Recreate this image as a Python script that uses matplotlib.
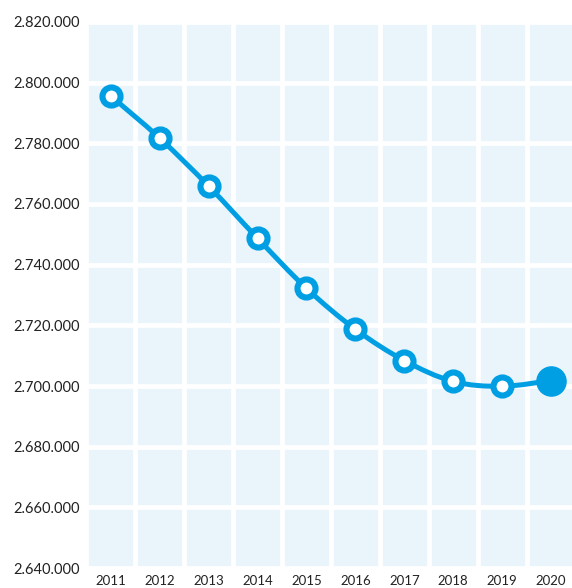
import matplotlib.pyplot as plt
from matplotlib.path import Path
from matplotlib.patches import PathPatch
from matplotlib.ticker import FuncFormatter, MultipleLocator
import numpy as np

years = [2011, 2012, 2013, 2014, 2015, 2016, 2017, 2018, 2019, 2020]
values = [2795600, 2781700, 2765900, 2748700, 2732200, 2718700, 2708400, 2701500, 2699900, 2701800]

BLUE = "#009FE3"
CELL = "#EAF4FB"

plt.rcParams["font.family"] = ["Lato", "DejaVu Sans"]


# smooth line through the points (Catmull-Rom as bezier segments)
def smooth_path(xs, ys):
    xs = np.asarray(xs, float)
    ys = np.asarray(ys, float)
    verts = [(xs[0], ys[0])]
    codes = [Path.MOVETO]
    n = len(xs)
    for i in range(n - 1):
        p0 = (xs[max(i - 1, 0)], ys[max(i - 1, 0)])
        p1 = (xs[i], ys[i])
        p2 = (xs[i + 1], ys[i + 1])
        p3 = (xs[min(i + 2, n - 1)], ys[min(i + 2, n - 1)])
        c1 = (p1[0] + (p2[0] - p0[0]) / 6, p1[1] + (p2[1] - p0[1]) / 6)
        c2 = (p2[0] - (p3[0] - p1[0]) / 6, p2[1] - (p3[1] - p1[1]) / 6)
        verts += [c1, c2, p2]
        codes += [Path.CURVE4] * 3
    return Path(verts, codes)


fig = plt.figure(figsize=(5.72, 5.88), dpi=100)
ax = fig.add_axes([0.151, 0.034, 0.855, 0.9286])
ax.set_facecolor(CELL)
for s in ax.spines.values():
    s.set_visible(False)

ax.set_xlim(2010.5, 2020.5)
ax.set_ylim(2640000, 2820000)
ax.yaxis.set_major_locator(MultipleLocator(20000))
ax.set_xticks(years)
ax.set_xticks(np.arange(2010.5, 2021, 1), minor=True)
ax.yaxis.set_major_formatter(FuncFormatter(lambda v, p: f"{int(v):,}".replace(",", ".")))

ax.grid(True, which="major", axis="y", color="white", linewidth=3.4)
ax.grid(True, which="minor", axis="x", color="white", linewidth=3.4)
ax.set_axisbelow(True)
ax.tick_params(which="both", length=0)
ax.tick_params(axis="y", pad=5, labelsize=10.5, labelcolor="#222222")
ax.tick_params(axis="x", pad=5, labelsize=9.5, labelcolor="#222222")

ax.add_patch(PathPatch(smooth_path(years, values), facecolor="none",
                       edgecolor=BLUE, linewidth=3.6, zorder=3, clip_on=False))
ax.plot(years[:-1], values[:-1], linestyle="none", marker="o", markersize=13,
        markerfacecolor="white", markeredgecolor=BLUE, markeredgewidth=4.4,
        zorder=4, clip_on=False)
ax.plot(years[-1:], values[-1:], linestyle="none", marker="o", markersize=21,
        markerfacecolor=BLUE, markeredgecolor=BLUE, zorder=4, clip_on=False)

fig.savefig("out.png", dpi=100)
